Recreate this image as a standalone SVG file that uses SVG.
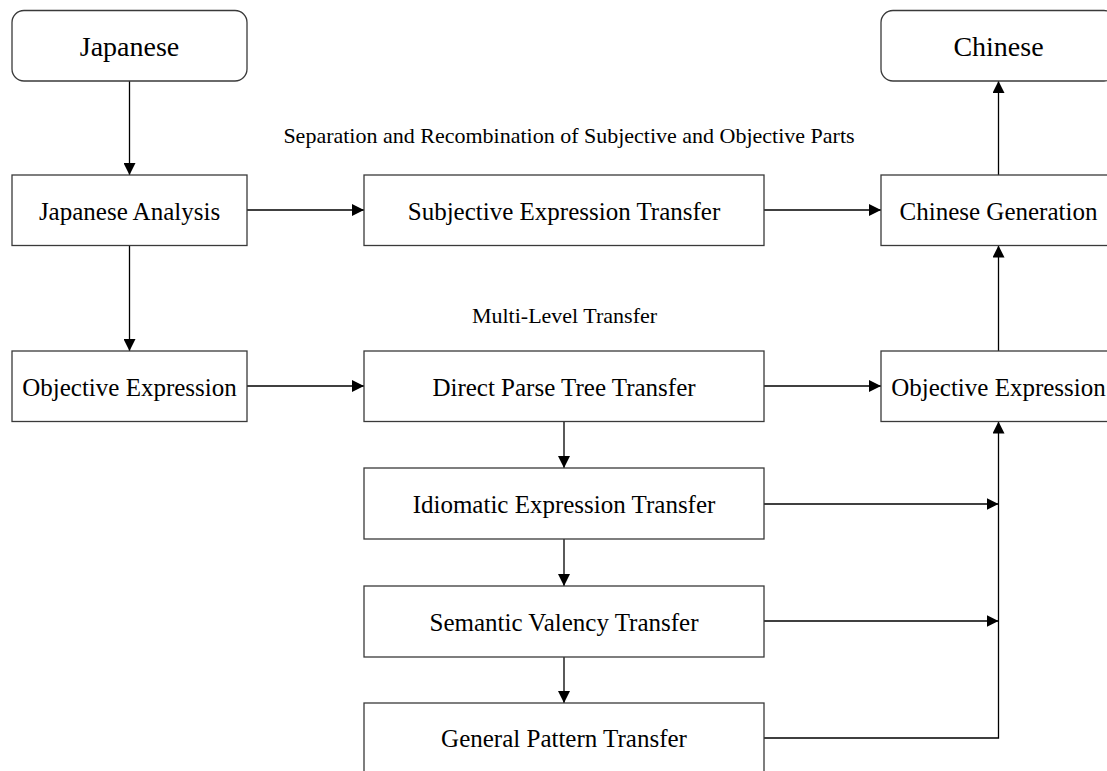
<svg xmlns="http://www.w3.org/2000/svg" width="1107" height="771" viewBox="0 0 1107 771">
<style>
.box{fill:#fff;stroke:#3a3a3a;stroke-width:1.3}
.t{font-family:"Liberation Serif","Times New Roman",serif;font-size:25px;fill:#000;text-anchor:middle}
.tl{font-family:"Liberation Serif","Times New Roman",serif;font-size:28px;fill:#000;text-anchor:middle}
.lab{font-family:"Liberation Serif","Times New Roman",serif;font-size:22px;fill:#000;text-anchor:middle}
.c{fill:none;stroke:#000;stroke-width:1.3;marker-end:url(#ah)}
</style>
<defs>
<marker id="ah" markerUnits="userSpaceOnUse" markerWidth="12" markerHeight="12" refX="12" refY="6" orient="auto">
<path d="M0,0 L12,6 L0,12 z" fill="#000"/>
</marker>
</defs>
<rect width="1107" height="771" fill="#fff"/>
<g id="connectors">
<line class="c" x1="129.5" y1="81" x2="129.5" y2="175"/>
<line class="c" x1="129.5" y1="245.5" x2="129.5" y2="351"/>
<line class="c" x1="247" y1="210" x2="364" y2="210"/>
<line class="c" x1="764" y1="210" x2="881" y2="210"/>
<line class="c" x1="998.5" y1="175" x2="998.5" y2="81"/>
<line class="c" x1="998.5" y1="351" x2="998.5" y2="245.5"/>
<line class="c" x1="247" y1="386" x2="364" y2="386"/>
<line class="c" x1="764" y1="386" x2="881" y2="386"/>
<line class="c" x1="564" y1="421.5" x2="564" y2="468"/>
<line class="c" x1="564" y1="539" x2="564" y2="586"/>
<line class="c" x1="564" y1="657" x2="564" y2="703"/>
<line class="c" x1="764" y1="504" x2="998.5" y2="504"/>
<line class="c" x1="764" y1="621" x2="998.5" y2="621"/>
<path class="c" d="M764,738 H998.5 V421.5"/>
</g>
<g id="labels">
<text class="lab" x="569" y="143">Separation and Recombination of Subjective and Objective Parts</text>
<text class="lab" x="564.5" y="323">Multi-Level Transfer</text>
</g>
<g id="japanese"><rect class="box" x="12" y="10.5" width="235" height="70.5" rx="12"/><text class="tl" x="129.5" y="55.5">Japanese</text></g>
<g id="chinese"><rect class="box" x="881" y="10.5" width="235" height="70.5" rx="12"/><text class="tl" x="998.5" y="55.5">Chinese</text></g>
<g id="japanese-analysis"><rect class="box" x="12" y="175" width="235" height="70.5"/><text class="t" x="129.5" y="220">Japanese Analysis</text></g>
<g id="subjective-transfer"><rect class="box" x="364" y="175" width="400" height="70.5"/><text class="t" x="564" y="220">Subjective Expression Transfer</text></g>
<g id="chinese-generation"><rect class="box" x="881" y="175" width="235" height="70.5"/><text class="t" x="998.5" y="220">Chinese Generation</text></g>
<g id="objective-left"><rect class="box" x="12" y="351" width="235" height="70.5"/><text class="t" x="129.5" y="396">Objective Expression</text></g>
<g id="direct-parse"><rect class="box" x="364" y="351" width="400" height="70.5"/><text class="t" x="564" y="396">Direct Parse Tree Transfer</text></g>
<g id="objective-right"><rect class="box" x="881" y="351" width="235" height="70.5"/><text class="t" x="998.5" y="396">Objective Expression</text></g>
<g id="idiomatic"><rect class="box" x="364" y="468" width="400" height="71"/><text class="t" x="564" y="513">Idiomatic Expression Transfer</text></g>
<g id="semantic"><rect class="box" x="364" y="586" width="400" height="71"/><text class="t" x="564" y="630.5">Semantic Valency Transfer</text></g>
<g id="general"><rect class="box" x="364" y="703" width="400" height="71"/><text class="t" x="564" y="747">General Pattern Transfer</text></g>
</svg>
